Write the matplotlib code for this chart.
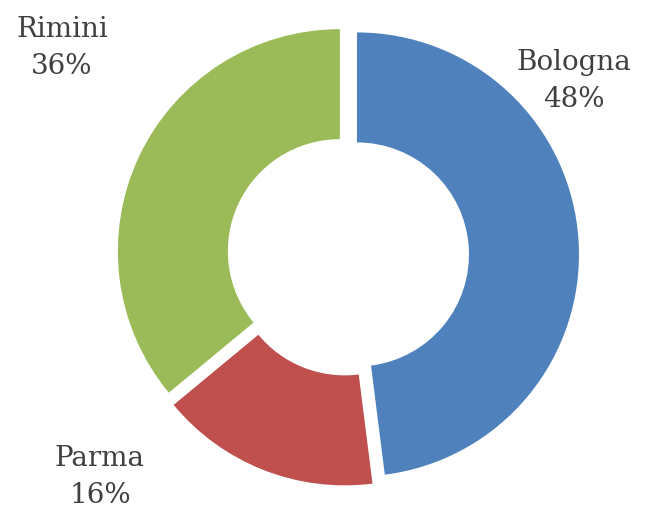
import matplotlib.pyplot as plt

# data
cities = ['Bologna', 'Parma', 'Rimini']
shares = [48, 16, 36]
colors = ['#4F81BD', '#C0504D', '#9BBB59']

# label anchor positions in pixel space (x, y from top)
label_pos = {'Bologna': (574, 81), 'Parma': (100, 477), 'Rimini': (62, 48)}

W, H = 653, 511
fig = plt.figure(figsize=(W / 100, H / 100), dpi=100)
ax = fig.add_axes([0, 0, 1, 1])

R = 222
# explode is in data units here (pixels), not a fraction of the radius
ax.pie(shares, colors=colors, startangle=90, counterclock=False,
       radius=R, center=(348, H - 255), explode=[9] * len(shares),
       wedgeprops=dict(width=110, edgecolor='none'))

total = sum(shares)
for city, val in zip(cities, shares):
    x, y = label_pos[city]
    ax.text(x, H - y, f'{city}\n{val / total * 100:.0f}%', ha='center', va='center',
            fontsize=20, family='DejaVu Serif', color='#404040', linespacing=1.5)

ax.set_xlim(0, W)
ax.set_ylim(0, H)
ax.set_aspect('equal')
ax.axis('off')

fig.savefig('out.png', dpi=100, facecolor='white')
